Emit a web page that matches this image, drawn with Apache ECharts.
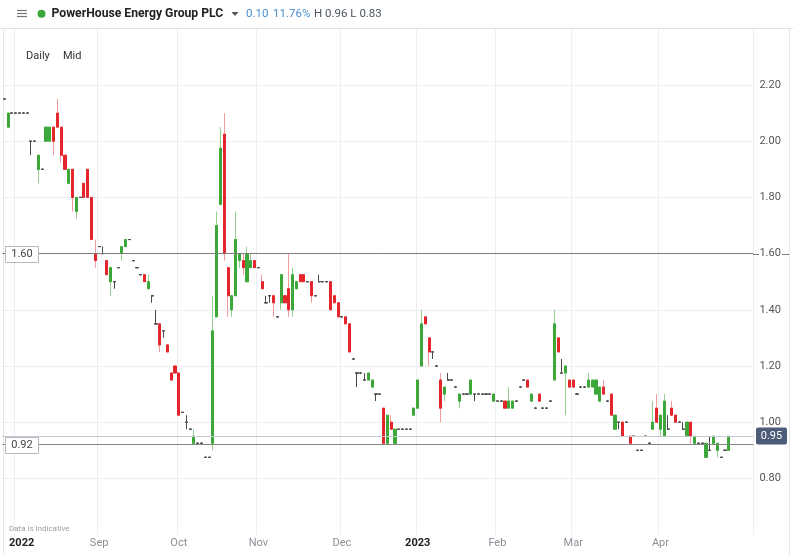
<!DOCTYPE html>
<html><head><meta charset="utf-8">
<script src="https://cdn.jsdelivr.net/npm/echarts@6/dist/echarts.min.js"></script>
<style>html,body{margin:0;padding:0;background:#fff;}#c{width:793px;height:555px;}</style>
</head><body><div id="c"></div>
<script>
// ---- data (daily mid prices) ----
const startDate = '2022-07-27';
const holidays = ['2022-08-29','2022-09-19','2022-12-26','2022-12-27','2023-01-02'];
const emptyTail = 6;
const opens = [
2.15,2.05,2.10,2.10,2.10,2.10,2.10,2.00,2.00,1.90,
1.90,2.00,2.00,2.05,2.10,2.05,1.95,1.85,1.90,1.75,
1.80,1.85,1.90,1.80,1.60,1.625,1.60,1.575,1.50,1.50,
1.55,1.60,1.625,1.65,1.575,1.55,1.525,1.525,1.475,1.45,
1.35,1.35,1.325,1.275,1.175,1.20,1.175,1.035,1.00,0.975,
0.925,0.925,0.925,0.875,0.875,0.925,1.375,1.775,2.025,1.55,
1.40,1.45,1.575,1.575,1.50,1.55,1.575,1.55,1.50,1.425,
1.45,1.45,1.375,1.425,1.45,1.475,1.40,1.475,1.525,1.525,
1.50,1.50,1.45,1.50,1.50,1.50,1.50,1.45,1.425,1.375,
1.375,1.35,1.225,1.175,1.175,1.15,1.15,1.125,1.10,1.10,
1.05,0.925,1.00,0.925,0.975,0.975,0.975,0.975,1.025,1.05,
1.20,1.375,1.30,1.25,1.20,1.15,1.10,1.15,1.15,1.125,
1.075,1.10,1.10,1.10,1.10,1.10,1.10,1.10,1.10,1.075,
1.075,1.075,1.075,1.05,1.05,1.075,1.125,1.15,1.15,1.075,
1.05,1.10,1.05,1.05,1.075,1.15,1.30,1.175,1.175,1.15,
1.15,1.10,1.125,1.125,1.125,1.125,1.10,1.075,1.125,1.075,
1.10,0.975,1.00,1.00,1.00,0.95,0.95,0.90,0.90,0.95,
0.925,0.975,1.05,0.975,0.95,0.975,1.05,1.025,1.00,0.975,
0.95,1.00,0.925,0.925,0.925,0.875,0.90,0.925,0.90,0.875,
0.90,0.90];
const closes = [
2.15,2.10,2.10,2.10,2.10,2.10,2.10,2.00,2.00,1.95,
1.90,2.05,2.05,2.00,2.05,1.95,1.90,1.90,1.80,1.80,
1.80,1.80,1.80,1.65,1.575,1.625,1.60,1.525,1.55,1.50,
1.55,1.625,1.65,1.65,1.575,1.55,1.525,1.50,1.50,1.45,
1.35,1.275,1.325,1.25,1.15,1.175,1.025,1.035,1.00,0.975,
0.95,0.925,0.925,0.875,0.875,1.325,1.70,1.975,1.60,1.45,
1.45,1.65,1.60,1.55,1.60,1.575,1.55,1.55,1.475,1.425,
1.45,1.425,1.375,1.525,1.425,1.40,1.525,1.50,1.50,1.50,
1.50,1.45,1.45,1.50,1.50,1.50,1.40,1.425,1.375,1.375,
1.35,1.25,1.225,1.175,1.175,1.15,1.175,1.15,1.10,1.10,
0.925,1.025,0.975,0.975,0.975,0.975,0.975,0.975,1.05,1.15,
1.35,1.35,1.25,1.25,1.20,1.05,1.125,1.15,1.15,1.125,
1.10,1.10,1.10,1.15,1.10,1.10,1.10,1.10,1.10,1.10,
1.075,1.075,1.05,1.075,1.075,1.075,1.125,1.15,1.125,1.10,
1.05,1.075,1.05,1.05,1.075,1.35,1.25,1.175,1.20,1.125,
1.125,1.10,1.125,1.125,1.15,1.15,1.15,1.125,1.10,1.075,
1.025,1.025,1.00,0.95,1.00,0.925,0.95,0.90,0.90,0.95,
0.925,1.00,1.00,1.025,1.075,0.975,1.025,1.00,1.00,0.975,
1.00,0.95,0.95,0.925,0.925,0.925,0.90,0.95,0.925,0.875,
0.90,0.95];
const lows = [
2.15,2.05,2.10,2.10,2.10,2.10,2.10,1.95,2.00,1.85,
1.90,2.00,2.00,1.95,2.05,1.925,1.90,1.85,1.75,1.725,
1.80,1.80,1.80,1.65,1.55,1.625,1.60,1.525,1.45,1.475,
1.55,1.575,1.625,1.65,1.575,1.55,1.525,1.50,1.475,1.425,
1.35,1.25,1.30,1.25,1.15,1.175,1.025,1.035,0.975,0.975,
0.925,0.925,0.925,0.875,0.875,0.90,1.375,1.775,1.575,1.375,
1.375,1.45,1.55,1.525,1.50,1.55,1.55,1.55,1.475,1.425,
1.425,1.375,1.375,1.40,1.425,1.375,1.375,1.475,1.50,1.50,
1.50,1.425,1.45,1.50,1.50,1.50,1.40,1.425,1.375,1.375,
1.35,1.25,1.225,1.125,1.175,1.15,1.15,1.125,1.075,1.10,
0.925,0.925,0.975,0.925,0.975,0.975,0.975,0.975,1.025,1.05,
1.20,1.35,1.20,1.225,1.20,1.00,1.075,1.15,1.15,1.125,
1.05,1.10,1.10,1.10,1.075,1.10,1.10,1.10,1.10,1.075,
1.075,1.075,1.05,1.05,1.05,1.075,1.125,1.15,1.125,1.075,
1.05,1.075,1.05,1.05,1.075,1.15,1.25,1.175,1.025,1.125,
1.125,1.10,1.125,1.125,1.125,1.125,1.10,1.075,1.10,1.075,
1.025,0.975,0.975,0.95,1.00,0.925,0.95,0.90,0.90,0.95,
0.925,0.975,1.00,0.95,0.95,0.975,1.025,1.00,1.00,0.975,
0.95,0.925,0.925,0.925,0.925,0.875,0.90,0.925,0.875,0.875,
0.90,0.90];
const highs = [
2.15,2.10,2.10,2.10,2.10,2.10,2.10,2.00,2.00,1.95,
1.90,2.05,2.05,2.05,2.15,2.05,1.95,1.90,1.90,1.80,
1.80,1.85,1.90,1.80,1.65,1.625,1.625,1.575,1.55,1.50,
1.55,1.625,1.65,1.65,1.575,1.55,1.525,1.525,1.525,1.45,
1.40,1.35,1.325,1.275,1.175,1.20,1.175,1.035,1.025,0.975,
0.975,0.925,0.925,0.875,0.875,1.45,1.75,2.05,2.10,1.55,
1.45,1.75,1.60,1.60,1.625,1.60,1.575,1.55,1.525,1.45,
1.45,1.45,1.375,1.525,1.45,1.60,1.55,1.50,1.525,1.525,
1.50,1.50,1.45,1.525,1.50,1.50,1.50,1.45,1.425,1.375,
1.375,1.35,1.225,1.175,1.175,1.175,1.175,1.15,1.10,1.10,
1.05,1.025,1.025,0.975,0.975,0.975,0.975,0.975,1.05,1.15,
1.40,1.375,1.30,1.25,1.20,1.175,1.125,1.175,1.15,1.125,
1.10,1.10,1.10,1.15,1.10,1.10,1.10,1.10,1.10,1.10,
1.075,1.075,1.075,1.125,1.075,1.075,1.125,1.15,1.15,1.10,
1.05,1.10,1.05,1.05,1.075,1.40,1.30,1.225,1.20,1.15,
1.15,1.10,1.125,1.125,1.175,1.15,1.15,1.125,1.15,1.075,
1.10,1.025,1.00,1.00,1.00,0.95,0.95,0.90,0.90,0.95,
0.925,1.075,1.10,1.025,1.10,1.025,1.075,1.025,1.00,1.00,
1.00,1.00,0.95,0.925,0.925,0.925,0.95,0.95,0.925,0.875,
0.90,0.95];
const yMin = 0.6, yMax = 2.4, yStep = 0.2;
const refLines = [1.60, 0.92];
const lastPrice = 0.95;
const monthLabels = {'2022-08':'2022','2022-09':'Sep','2022-10':'Oct','2022-11':'Nov','2022-12':'Dec',
  '2023-01':'2023','2023-02':'Feb','2023-03':'Mar','2023-04':'Apr'};
const yearLabels = ['2022','2023'];

// ---- trading-day categories ----
function buildDates(start, count){
  const out = []; const d = new Date(start + 'T00:00:00Z');
  while (out.length < count){
    const wd = d.getUTCDay(); const s = d.toISOString().slice(0,10);
    if (wd !== 0 && wd !== 6 && holidays.indexOf(s) < 0) out.push(s);
    d.setUTCDate(d.getUTCDate() + 1);
  }
  return out;
}
const dates = buildDates(startDate, opens.length + emptyTail);
const labelIdx = {};
dates.forEach((s, i) => {
  const m = s.slice(0,7);
  if (monthLabels[m] && i > 0 && dates[i-1].slice(0,7) !== m) labelIdx[i] = monthLabels[m];
});
const firstLabelIdx = Math.min.apply(null, Object.keys(labelIdx).map(Number));
const fullData = opens.map((o, i) => [o, closes[i], lows[i], highs[i]]);
const bodyData = opens.map((o, i) => [o, closes[i], Math.min(o, closes[i]), Math.max(o, closes[i])]);

const chart = echarts.init(document.getElementById('c'), null, {renderer: 'canvas'});
const BW = 2.6;
chart.setOption({
  animation: false,
  backgroundColor: '#ffffff',
  grid: {left: 2.4, right: 39.6, top: 28.8, bottom: 20.4, containLabel: false},
  xAxis: {
    type: 'category', data: dates, boundaryGap: true,
    axisLine: {show: false}, axisTick: {show: false},
    axisLabel: {
      interval: (i) => labelIdx[i] !== undefined, margin: 3,
      formatter: (v, i) => {
        const t = labelIdx[i]; if (t === undefined) return '';
        if (i === firstLabelIdx) return '{y0|' + t + '}';
        return yearLabels.indexOf(t) >= 0 ? '{y|' + t + '}' : '{m|' + t + '}';
      },
      rich: {
        y0: {fontFamily: 'Roboto', fontSize: 11, fontWeight: 'bold', color: '#222', padding: [0, 0, 0, 12]},
        y: {fontFamily: 'Roboto', fontSize: 11, fontWeight: 'bold', color: '#222'},
        m: {fontFamily: 'Roboto', fontSize: 11, color: '#8a8f96'}
      }
    },
    splitLine: {show: true, interval: (i) => labelIdx[i] !== undefined, lineStyle: {color: '#eceef1', width: 1}}
  },
  yAxis: {
    type: 'value', position: 'right', min: yMin, max: yMax, interval: yStep, scale: false,
    axisLine: {show: false}, axisTick: {show: false},
    axisLabel: {showMinLabel: false, showMaxLabel: false, margin: 6, fontFamily: 'Roboto', fontSize: 11, color: '#555',
      formatter: (v) => v.toFixed(2)},
    splitLine: {show: true, showMinLine: false, showMaxLine: false, lineStyle: {color: '#eceef1', width: 1}}
  },
  series: [
    {
      type: 'candlestick', name: 'wicks', data: fullData, barWidth: BW, silent: true, z: 2,
      itemStyle: {color: '#94cf8f', color0: '#f29a9c', borderColor: '#94cf8f', borderColor0: '#f29a9c',
        borderColorDoji: '#4a4a4a', borderWidth: 1}
    },
    {
      type: 'candlestick', name: 'PowerHouse Energy Group PLC', data: bodyData, barWidth: BW, silent: true, z: 3,
      itemStyle: {color: '#3da83a', color0: '#e3262c', borderColor: '#3da83a', borderColor0: '#e3262c',
        borderColorDoji: '#4a4a4a', borderWidth: 1},
      markLine: {
        silent: true, symbol: 'none', label: {show: false}, animation: false,
        data: [
          {yAxis: lastPrice, lineStyle: {color: '#c3cad4', width: 1, type: 'solid'}},
          {yAxis: refLines[0], lineStyle: {color: '#7d7d7d', width: 1, type: 'solid'}},
          {yAxis: refLines[1], lineStyle: {color: '#858585', width: 1, type: 'solid'}}
        ]
      }
    }
  ]
});

// ---- overlay decorations positioned through the chart's own scales ----
const yRef0 = chart.convertToPixel({yAxisIndex: 0}, refLines[0]);
const yRef1 = chart.convertToPixel({yAxisIndex: 0}, refLines[1]);
const yLast = chart.convertToPixel({yAxisIndex: 0}, lastPrice);
function leftBox(y, txt){
  return {type: 'group', children: [
    {type: 'rect', shape: {x: 5.5, y: Math.round(y) - 7.5, width: 33, height: 16},
      style: {fill: '#fff', stroke: '#b5b9be', lineWidth: 1}, z: 20},
    {type: 'text', x: 22, y: Math.round(y) + 0.5, style: {text: txt, fill: '#444', fontFamily: 'Roboto', fontSize: 11,
      align: 'center', verticalAlign: 'middle'}, z: 21}
  ]};
}
chart.setOption({graphic: [
  // panel frame
  {type: 'line', shape: {x1: 0, y1: 28.5, x2: 793, y2: 28.5}, style: {stroke: '#dfe2e5', lineWidth: 1}, z: 0},
  {type: 'line', shape: {x1: 3.5, y1: 28.5, x2: 3.5, y2: 555}, style: {stroke: '#e3e6e9', lineWidth: 1}, z: 0},
  {type: 'line', shape: {x1: 789.5, y1: 28.5, x2: 789.5, y2: 555}, style: {stroke: '#e3e6e9', lineWidth: 1}, z: 0},
  // header
  {type: 'line', shape: {x1: 17, y1: 10.5, x2: 27, y2: 10.5}, style: {stroke: '#777', lineWidth: 1.2}},
  {type: 'line', shape: {x1: 17, y1: 13.5, x2: 27, y2: 13.5}, style: {stroke: '#777', lineWidth: 1.2}},
  {type: 'line', shape: {x1: 17, y1: 16.5, x2: 27, y2: 16.5}, style: {stroke: '#777', lineWidth: 1.2}},
  {type: 'circle', shape: {cx: 41.5, cy: 13.7, r: 4}, style: {fill: '#3aa83a'}},
  {type: 'text', x: 51.5, y: 14, style: {text: 'PowerHouse Energy Group PLC', fill: '#222', fontFamily: 'Roboto',
    fontSize: 12.2, fontWeight: 'bold', verticalAlign: 'middle'}},
  {type: 'polygon', shape: {points: [[231.5, 12], [238.5, 12], [235, 16]]}, style: {fill: '#555'}},
  {type: 'text', x: 246, y: 14, style: {text: '0.10', fill: '#4a8fcf', fontFamily: 'Roboto', fontSize: 11.5, verticalAlign: 'middle'}},
  {type: 'text', x: 273, y: 14, style: {text: '11.76%', fill: '#4a8fcf', fontFamily: 'Roboto', fontSize: 11.5, verticalAlign: 'middle'}},
  {type: 'text', x: 314, y: 14, style: {text: 'H 0.96 L 0.83', fill: '#4d5560', fontFamily: 'Roboto', fontSize: 11.5, verticalAlign: 'middle'}},
  {type: 'text', x: 26, y: 56, style: {text: 'Daily', fill: '#333', fontFamily: 'Roboto', fontSize: 11, verticalAlign: 'middle'}},
  {type: 'text', x: 63, y: 56, style: {text: 'Mid', fill: '#333', fontFamily: 'Roboto', fontSize: 11, verticalAlign: 'middle'}},
  {type: 'text', x: 9, y: 529, style: {text: 'Data is indicative', fill: '#9a9ea4', fontFamily: 'Roboto', fontSize: 8, verticalAlign: 'middle'}},
  // reference line labels
  leftBox(yRef0, refLines[0].toFixed(2)),
  leftBox(yRef1, refLines[1].toFixed(2)),
  {type: 'line', shape: {x1: 753, y1: Math.round(yRef0) + 0.5, x2: 759, y2: Math.round(yRef0) + 0.5}, style: {stroke: '#7d7d7d', lineWidth: 1}},
  {type: 'line', shape: {x1: 782, y1: Math.round(yRef0) + 0.5, x2: 789, y2: Math.round(yRef0) + 0.5}, style: {stroke: '#7d7d7d', lineWidth: 1}},
  {type: 'rect', shape: {x: 756, y: Math.round(yLast) - 8.5, width: 31, height: 17, r: 2}, style: {fill: '#4c5b78'}, z: 20},
  {type: 'text', x: 771.5, y: Math.round(yLast), style: {text: lastPrice.toFixed(2), fill: '#fff', fontFamily: 'Roboto',
    fontSize: 11, align: 'center', verticalAlign: 'middle'}, z: 21}
]});
</script>
</body></html>
